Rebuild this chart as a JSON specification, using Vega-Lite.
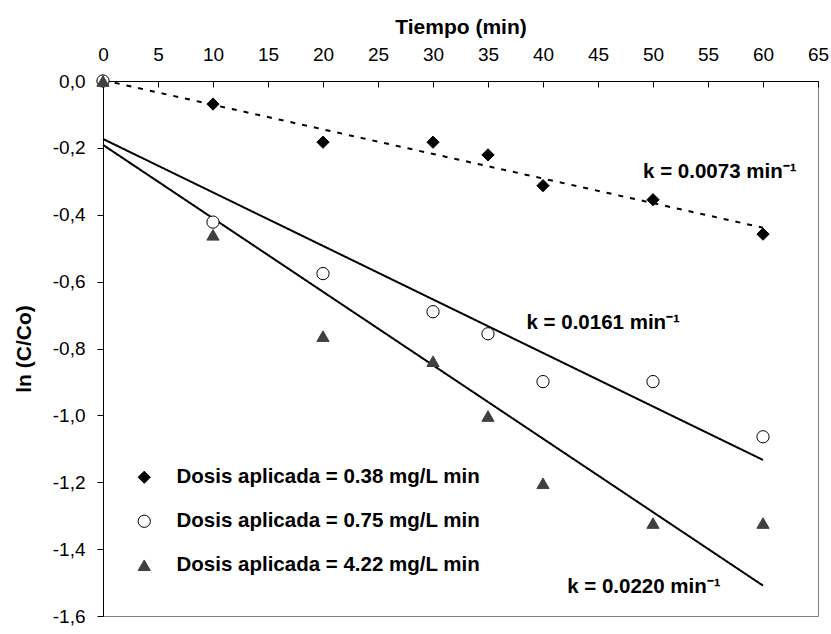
{
  "$schema": "https://vega.github.io/schema/vega-lite/v6.json",
  "width": 715,
  "height": 535,
  "autosize": {"type": "none"},
  "padding": {"left": 103, "top": 81, "right": 13, "bottom": 18},
  "background": "white",
  "config": {
    "locale": {"number": {"decimal": ",", "thousands": ".", "grouping": [3], "currency": ["", ""], "minus": "-"}},
    "font": "Liberation Sans",
    "view": {"stroke": "#808080", "strokeWidth": 1},
    "axis": {"domainColor": "black", "tickColor": "black", "labelColor": "black", "titleColor": "black", "grid": false, "labelFont": "Liberation Sans", "titleFont": "Liberation Sans", "labelFontSize": 19, "titleFontSize": 21, "titleFontWeight": "bold", "domainWidth": 1, "tickWidth": 1, "labelFlush": false},
    "legend": {"labelFont": "Liberation Sans", "labelFontSize": 20.5, "labelFontWeight": "bold", "labelColor": "black", "padding": 0, "symbolStrokeWidth": 1, "symbolSize": 150, "labelOffset": 22, "rowPadding": 23, "labelLimit": 500, "orient": "none", "legendX": 31, "legendY": 386}
  },
  "datasets": {
    "points": [
      {"t": 0, "v": 0, "serie": "Dosis aplicada = 0.38 mg/L min"},
      {"t": 10, "v": -0.069, "serie": "Dosis aplicada = 0.38 mg/L min"},
      {"t": 20, "v": -0.183, "serie": "Dosis aplicada = 0.38 mg/L min"},
      {"t": 30, "v": -0.183, "serie": "Dosis aplicada = 0.38 mg/L min"},
      {"t": 35, "v": -0.221, "serie": "Dosis aplicada = 0.38 mg/L min"},
      {"t": 40, "v": -0.313, "serie": "Dosis aplicada = 0.38 mg/L min"},
      {"t": 50, "v": -0.355, "serie": "Dosis aplicada = 0.38 mg/L min"},
      {"t": 60, "v": -0.458, "serie": "Dosis aplicada = 0.38 mg/L min"},
      {"t": 0, "v": 0, "serie": "Dosis aplicada = 0.75 mg/L min"},
      {"t": 10, "v": -0.422, "serie": "Dosis aplicada = 0.75 mg/L min"},
      {"t": 20, "v": -0.576, "serie": "Dosis aplicada = 0.75 mg/L min"},
      {"t": 30, "v": -0.69, "serie": "Dosis aplicada = 0.75 mg/L min"},
      {"t": 35, "v": -0.756, "serie": "Dosis aplicada = 0.75 mg/L min"},
      {"t": 40, "v": -0.899, "serie": "Dosis aplicada = 0.75 mg/L min"},
      {"t": 50, "v": -0.899, "serie": "Dosis aplicada = 0.75 mg/L min"},
      {"t": 60, "v": -1.064, "serie": "Dosis aplicada = 0.75 mg/L min"},
      {"t": 0, "v": 0, "serie": "Dosis aplicada = 4.22 mg/L min"},
      {"t": 10, "v": -0.46, "serie": "Dosis aplicada = 4.22 mg/L min"},
      {"t": 20, "v": -0.763, "serie": "Dosis aplicada = 4.22 mg/L min"},
      {"t": 30, "v": -0.838, "serie": "Dosis aplicada = 4.22 mg/L min"},
      {"t": 35, "v": -1.002, "serie": "Dosis aplicada = 4.22 mg/L min"},
      {"t": 40, "v": -1.203, "serie": "Dosis aplicada = 4.22 mg/L min"},
      {"t": 50, "v": -1.322, "serie": "Dosis aplicada = 4.22 mg/L min"},
      {"t": 60, "v": -1.322, "serie": "Dosis aplicada = 4.22 mg/L min"}
    ],
    "annotations": [
      {"t": 49.1, "v": -0.272, "label": "k = 0.0073 min⁻¹"},
      {"t": 38.5, "v": -0.724, "label": "k = 0.0161 min⁻¹"},
      {"t": 42.2, "v": -1.513, "label": "k = 0.0220 min⁻¹"}
    ]
  },
  "layer": [
    {
      "data": {"name": "points"},
      "transform": [{"regression": "v", "on": "t", "groupby": ["serie"]}],
      "mark": {"type": "line", "color": "black", "strokeWidth": 2},
      "encoding": {
        "x": {"field": "t", "type": "quantitative", "scale": {"domain": [0, 65], "nice": false, "zero": false},
              "axis": {"orient": "top", "title": "Tiempo (min)", "values": [0, 5, 10, 15, 20, 25, 30, 35, 40, 45, 50, 55, 60, 65], "tickSize": -6, "labelPadding": 23, "titlePadding": 8, "format": "d"}},
        "y": {"field": "v", "type": "quantitative", "scale": {"domain": [-1.6, 0], "nice": false, "zero": false},
              "axis": {"title": "ln (C/Co)", "values": [-1.6, -1.4, -1.2, -1, -0.8, -0.6, -0.4, -0.2, 0], "format": ".1f", "tickSize": 6, "labelPadding": 12, "titlePadding": 18}},
        "detail": {"field": "serie", "type": "nominal"},
        "strokeDash": {"condition": {"test": "datum.serie === 'Dosis aplicada = 0.38 mg/L min'", "value": [5, 7]}, "value": [1, 0]}
      }
    },
    {
      "data": {"name": "points"},
      "mark": {"type": "point", "size": 150, "strokeWidth": 1, "opacity": 1},
      "encoding": {
        "x": {"field": "t", "type": "quantitative"},
        "y": {"field": "v", "type": "quantitative"},
        "shape": {"field": "serie", "type": "nominal", "title": null, "scale": {"domain": ["Dosis aplicada = 0.38 mg/L min", "Dosis aplicada = 0.75 mg/L min", "Dosis aplicada = 4.22 mg/L min"], "range": ["diamond", "circle", "triangle-up"]}},
        "fill": {"field": "serie", "type": "nominal", "title": null, "scale": {"domain": ["Dosis aplicada = 0.38 mg/L min", "Dosis aplicada = 0.75 mg/L min", "Dosis aplicada = 4.22 mg/L min"], "range": ["black", "white", "#404040"]}},
        "stroke": {"field": "serie", "type": "nominal", "title": null, "scale": {"domain": ["Dosis aplicada = 0.38 mg/L min", "Dosis aplicada = 0.75 mg/L min", "Dosis aplicada = 4.22 mg/L min"], "range": ["black", "black", "#404040"]}}
      }
    },
    {
      "data": {"name": "annotations"},
      "mark": {"type": "text", "align": "left", "baseline": "middle", "fontSize": 20.5, "fontWeight": "bold", "font": "Liberation Sans", "color": "black"},
      "encoding": {"x": {"field": "t", "type": "quantitative"}, "y": {"field": "v", "type": "quantitative"}, "text": {"field": "label"}}
    }
  ]
}
